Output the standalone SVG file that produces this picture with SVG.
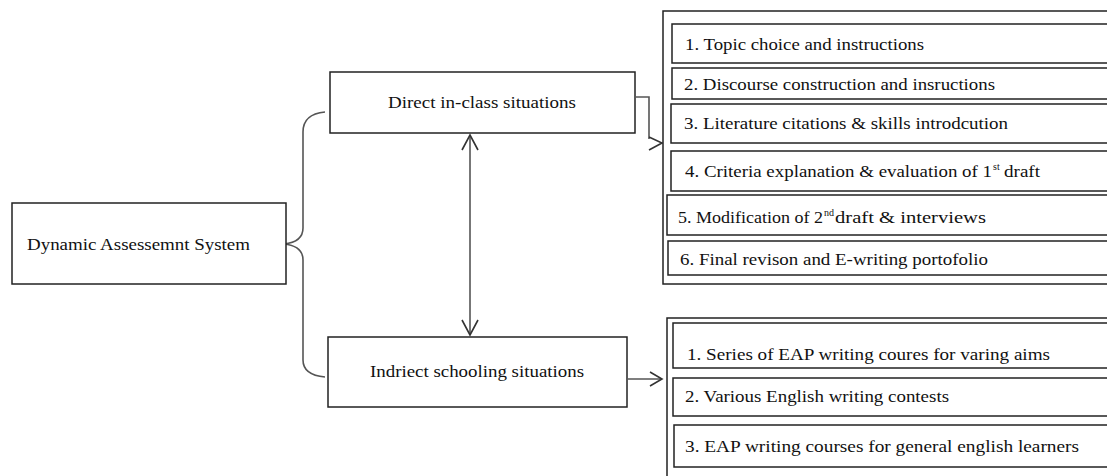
<svg xmlns="http://www.w3.org/2000/svg" width="1107" height="476" viewBox="0 0 1107 476">
<style>
.box{fill:#fff;stroke:#222;stroke-width:1.5}
.t{font-family:"Liberation Serif","Times New Roman",serif;font-size:16px;fill:#111}
.sup{font-family:"Liberation Serif","Times New Roman",serif;font-size:10px;fill:#111}
.c{fill:none;stroke:#555;stroke-width:1.6}
.h{fill:none;stroke:#333;stroke-width:1.6;stroke-linejoin:miter}
</style>
<rect width="1107" height="476" fill="#fff"/>
<g id="connectors">
<path class="c" d="M325,112 Q303,114 303,132 V228 Q303,242 284,244 Q303,246 303,260 V360 Q303,375 325,377"/>
<line class="c" x1="470" y1="136" x2="470" y2="334"/>
<polyline class="h" points="462,150 470,135 478,150"/>
<polyline class="h" points="462,320 470,335 478,320"/>
<path class="c" d="M636,97 H649 V139"/>
<polyline class="h" points="649,137 662,143 649,150"/>
<line class="c" x1="628" y1="379" x2="661" y2="379"/>
<polyline class="h" points="650,372 662,379 650,386"/>
</g>
<g id="node-das">
<rect class="box" x="12" y="203" width="274" height="81"/>
<text class="t" x="27" y="250" textLength="223" lengthAdjust="spacingAndGlyphs">Dynamic  Assessemnt System</text>
</g>
<g id="node-direct">
<rect class="box" x="330" y="72" width="305" height="61"/>
<text class="t" x="388" y="108" textLength="188" lengthAdjust="spacingAndGlyphs">Direct in-class situations</text>
</g>
<g id="node-indirect">
<rect class="box" x="328" y="337" width="299" height="70"/>
<text class="t" x="370" y="377" textLength="214" lengthAdjust="spacingAndGlyphs">Indriect schooling situations</text>
</g>
<g id="node-direct-list">
<rect class="box" x="663" y="11" width="460" height="273"/>
<g id="d1"><rect class="box" x="672" y="24" width="450" height="39"/>
<text class="t" x="685" y="50" textLength="239" lengthAdjust="spacingAndGlyphs">1. Topic choice and instructions</text></g>
<g id="d2"><rect class="box" x="672" y="68" width="450" height="31"/>
<text class="t" x="684" y="90" textLength="311" lengthAdjust="spacingAndGlyphs">2. Discourse construction and insructions</text></g>
<g id="d3"><rect class="box" x="671" y="104" width="450" height="39"/>
<text class="t" x="684" y="129" textLength="324" lengthAdjust="spacingAndGlyphs">3. Literature citations &amp; skills introdcution</text></g>
<g id="d4"><rect class="box" x="671" y="151" width="450" height="40"/>
<text class="t" x="685" y="177" textLength="307" lengthAdjust="spacingAndGlyphs">4. Criteria explanation &amp; evaluation of 1</text>
<text class="sup" x="993" y="170">st</text>
<text class="t" x="1004" y="177" textLength="36" lengthAdjust="spacingAndGlyphs">draft</text></g>
<g id="d5"><rect class="box" x="667" y="195" width="450" height="40"/>
<text class="t" x="678" y="223" textLength="145" lengthAdjust="spacingAndGlyphs">5. Modification of 2</text>
<text class="sup" x="824" y="216">nd</text>
<text class="t" x="835" y="223" textLength="151" lengthAdjust="spacingAndGlyphs">draft &amp; interviews</text></g>
<g id="d6"><rect class="box" x="668" y="241" width="450" height="34"/>
<text class="t" x="680" y="265" textLength="308" lengthAdjust="spacingAndGlyphs">6. Final revison and E-writing portofolio</text></g>
</g>
<g id="node-indirect-list">
<rect class="box" x="667" y="318" width="460" height="180"/>
<g id="i1"><rect class="box" x="673" y="323" width="450" height="45"/>
<text class="t" x="687" y="360" textLength="363" lengthAdjust="spacingAndGlyphs">1.  Series of EAP writing coures for varing aims</text></g>
<g id="i2"><rect class="box" x="673" y="378" width="450" height="38"/>
<text class="t" x="685" y="402" textLength="264" lengthAdjust="spacingAndGlyphs">2. Various English writing contests</text></g>
<g id="i3"><rect class="box" x="674" y="425" width="450" height="42"/>
<text class="t" x="685" y="452" textLength="394" lengthAdjust="spacingAndGlyphs">3. EAP writing courses for general english learners</text></g>
</g>
</svg>
